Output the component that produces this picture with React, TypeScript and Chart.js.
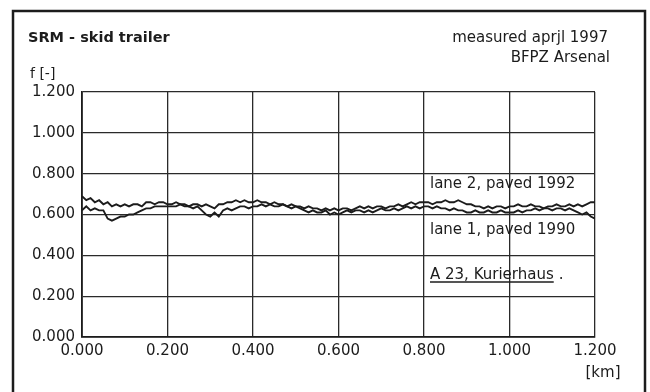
import { useEffect, useRef } from "react";
import { Chart, registerables } from "chart.js";

Chart.register(...registerables);

const distanceKm = [
  0.0, 0.01, 0.02, 0.03, 0.04, 0.05, 0.06, 0.07, 0.08, 0.09, 0.1,
  0.11, 0.12, 0.13, 0.14, 0.15, 0.16, 0.17, 0.18, 0.19, 0.2,
  0.21, 0.22, 0.23, 0.24, 0.25, 0.26, 0.27, 0.28, 0.29, 0.3,
  0.31, 0.32, 0.33, 0.34, 0.35, 0.36, 0.37, 0.38, 0.39, 0.4,
  0.41, 0.42, 0.43, 0.44, 0.45, 0.46, 0.47, 0.48, 0.49, 0.5,
  0.51, 0.52, 0.53, 0.54, 0.55, 0.56, 0.57, 0.58, 0.59, 0.6,
  0.61, 0.62, 0.63, 0.64, 0.65, 0.66, 0.67, 0.68, 0.69, 0.7,
  0.71, 0.72, 0.73, 0.74, 0.75, 0.76, 0.77, 0.78, 0.79, 0.8,
  0.81, 0.82, 0.83, 0.84, 0.85, 0.86, 0.87, 0.88, 0.89, 0.9,
  0.91, 0.92, 0.93, 0.94, 0.95, 0.96, 0.97, 0.98, 0.99, 1.0,
  1.01, 1.02, 1.03, 1.04, 1.05, 1.06, 1.07, 1.08, 1.09, 1.1,
  1.11, 1.12, 1.13, 1.14, 1.15, 1.16, 1.17, 1.18, 1.19, 1.2,
];

// lane 2, paved 1992 (upper trace)
const lane2Values = [
  0.69, 0.67, 0.68, 0.66, 0.67, 0.65, 0.66, 0.64, 0.65, 0.64, 0.65,
  0.64, 0.65, 0.65, 0.64, 0.66, 0.66, 0.65, 0.66, 0.66, 0.65,
  0.65, 0.66, 0.65, 0.65, 0.64, 0.65, 0.65, 0.64, 0.65, 0.64,
  0.63, 0.65, 0.65, 0.66, 0.66, 0.67, 0.66, 0.67, 0.66, 0.66,
  0.67, 0.66, 0.66, 0.65, 0.66, 0.65, 0.65, 0.64, 0.65, 0.64,
  0.64, 0.63, 0.64, 0.63, 0.63, 0.62, 0.63, 0.62, 0.63, 0.62,
  0.63, 0.63, 0.62, 0.63, 0.64, 0.63, 0.64, 0.63, 0.64, 0.64,
  0.63, 0.64, 0.64, 0.65, 0.64, 0.65, 0.66, 0.65, 0.66, 0.66,
  0.66, 0.65, 0.66, 0.66, 0.67, 0.66, 0.66, 0.67, 0.66, 0.65,
  0.65, 0.64, 0.64, 0.63, 0.64, 0.63, 0.64, 0.64, 0.63, 0.64,
  0.64, 0.65, 0.64, 0.64, 0.65, 0.64, 0.64, 0.63, 0.64, 0.64,
  0.65, 0.64, 0.64, 0.65, 0.64, 0.65, 0.64, 0.65, 0.66, 0.66,
];

// lane 1, paved 1990 (lower trace)
const lane1Values = [
  0.62, 0.64, 0.62, 0.63, 0.62, 0.62, 0.58, 0.57, 0.58, 0.59, 0.59,
  0.6, 0.6, 0.61, 0.62, 0.63, 0.63, 0.64, 0.64, 0.64, 0.64,
  0.64, 0.64, 0.65, 0.64, 0.64, 0.63, 0.64, 0.62, 0.6, 0.59,
  0.61, 0.59, 0.62, 0.63, 0.62, 0.63, 0.64, 0.64, 0.63, 0.64,
  0.64, 0.65, 0.64, 0.65, 0.64, 0.64, 0.65, 0.64, 0.63, 0.64,
  0.63, 0.62, 0.61, 0.62, 0.61, 0.61, 0.62, 0.6, 0.61, 0.6,
  0.61, 0.62, 0.61, 0.62, 0.62, 0.61, 0.62, 0.61, 0.62, 0.63,
  0.62, 0.62, 0.63, 0.62, 0.63, 0.64, 0.63, 0.64, 0.63, 0.64,
  0.64, 0.63, 0.64, 0.63, 0.63, 0.62, 0.63, 0.62, 0.62, 0.61,
  0.61, 0.62, 0.61, 0.61, 0.62, 0.61, 0.61, 0.62, 0.61, 0.61,
  0.61, 0.62, 0.61, 0.62, 0.62, 0.63, 0.62, 0.63, 0.63, 0.62,
  0.63, 0.63, 0.62, 0.63, 0.62, 0.61, 0.6, 0.61, 0.59, 0.58,
];

const titleText = "SRM - skid trailer";
const measuredText = "measured aprjl 1997";
const sourceText = "BFPZ Arsenal";
const yAxisLabel = "f [-]";
const xAxisLabel = "[km]";
const lane2Label = "lane 2, paved 1992";
const lane1Label = "lane 1, paved 1990";
const siteLabel = "A 23, Kurierhaus";

const FONT = "'DejaVu Sans', 'Liberation Sans', Arial, sans-serif";
const INK = "#1c1c1c";

const decorPlugin = {
  id: "decor",
  beforeDraw(chart: any) {
    const ctx = chart.ctx;
    ctx.save();
    ctx.fillStyle = "#ffffff";
    ctx.fillRect(0, 0, chart.width, chart.height);
    ctx.restore();
  },
  afterDraw(chart: any) {
    const ctx = chart.ctx as CanvasRenderingContext2D;
    ctx.save();
    // outer frame
    ctx.strokeStyle = INK;
    ctx.lineWidth = 2.5;
    ctx.strokeRect(13, 11, 632, 400);

    ctx.fillStyle = INK;
    ctx.textBaseline = "middle";

    ctx.font = `bold 14.5px ${FONT}`;
    ctx.textAlign = "left";
    ctx.fillText(titleText, 28, 38);

    ctx.font = `15px ${FONT}`;
    ctx.textAlign = "right";
    ctx.fillText(measuredText, 608, 38);
    ctx.fillText(sourceText, 610, 58);

    ctx.textAlign = "left";
    ctx.font = `14px ${FONT}`;
    ctx.fillText(yAxisLabel, 30, 74);

    ctx.font = `15px ${FONT}`;
    ctx.textAlign = "center";
    ctx.fillText(xAxisLabel, 603, 373);

    ctx.textAlign = "left";
    ctx.fillText(lane2Label, 430, 184);
    ctx.fillText(lane1Label, 430, 230);
    ctx.fillText(siteLabel, 430, 275);
    const w = ctx.measureText(siteLabel).width;
    ctx.lineWidth = 1.3;
    ctx.beginPath();
    ctx.moveTo(430, 282);
    ctx.lineTo(430 + w, 282);
    ctx.stroke();
    ctx.fillText(".", 430 + w + 5, 275);

    ctx.restore();
  },
};

export default function App() {
  const canvasRef = useRef<HTMLCanvasElement | null>(null);

  useEffect(() => {
    const canvas = canvasRef.current;
    if (!canvas) return;

    const lane2Points = distanceKm.map((x, i) => ({ x, y: lane2Values[i] }));
    const lane1Points = distanceKm.map((x, i) => ({ x, y: lane1Values[i] }));

    const tickFont = { family: FONT, size: 15 };

    const chart = new Chart(canvas, {
      type: "line",
      data: {
        datasets: [
          {
            label: lane2Label,
            data: lane2Points,
            borderColor: INK,
            borderWidth: 1.9,
            pointRadius: 0,
            tension: 0,
            fill: false,
          },
          {
            label: lane1Label,
            data: lane1Points,
            borderColor: INK,
            borderWidth: 1.9,
            pointRadius: 0,
            tension: 0,
            fill: false,
          },
        ],
      },
      options: {
        responsive: false,
        animation: false,
        events: [],
        layout: { padding: { left: 0, top: 92, right: 55, bottom: 0 } },
        plugins: {
          legend: { display: false },
          tooltip: { enabled: false },
          title: { display: false },
        },
        scales: {
          x: {
            type: "linear",
            min: 0,
            max: 1.2,
            ticks: {
              stepSize: 0.2,
              maxRotation: 0,
              autoSkip: false,
              padding: 5,
              color: INK,
              font: tickFont,
              callback: (v: any) => Number(v).toFixed(3),
            },
            grid: { color: "#2a2a2a", lineWidth: 1.3, drawTicks: false },
            border: { color: INK, width: 1.8 },
            afterFit: (s: any) => {
              s.height = 55;
            },
          },
          y: {
            type: "linear",
            min: 0,
            max: 1.2,
            ticks: {
              stepSize: 0.2,
              padding: 7,
              color: INK,
              font: tickFont,
              callback: (v: any) => Number(v).toFixed(3),
            },
            grid: { color: "#2a2a2a", lineWidth: 1.3, drawTicks: false },
            border: { color: INK, width: 1.8 },
            afterFit: (s: any) => {
              s.width = 82;
            },
          },
        },
      },
      plugins: [decorPlugin],
    });

    return () => {
      chart.destroy();
    };
  }, []);

  return (
    <div style={{ position: "absolute", left: 0, top: 0, width: 650, height: 392, background: "#fff" }}>
      <canvas ref={canvasRef} width={650} height={392} style={{ display: "block" }} />
    </div>
  );
}
